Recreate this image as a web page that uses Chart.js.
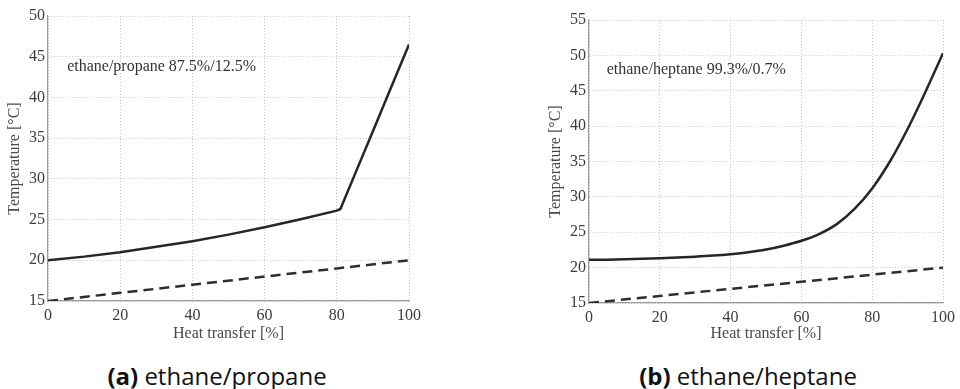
<!DOCTYPE html>
<html>
<head>
<meta charset="utf-8">
<script src="https://cdn.jsdelivr.net/npm/chart.js@4.4.0/dist/chart.umd.min.js"></script>
<style>
  html, body { margin: 0; padding: 0; background: #fff; }
  body { width: 960px; height: 389px; position: relative; overflow: hidden; }
  canvas { position: absolute; top: 0; }
  .cap { position: absolute; font-family: "Open Sans", sans-serif; font-size: 24px; line-height: 30px; color: #111; white-space: nowrap; transform: translateX(-50%); top: 361px; }
  .cap b { font-weight: 700; }
</style>
</head>
<body>
<canvas id="cA" width="440" height="343" style="left:0px;width:440px;height:343px"></canvas>
<canvas id="cB" width="440" height="343" style="left:520px;width:440px;height:343px"></canvas>
<div class="cap" style="left:217px"><b>(a)</b> ethane/propane</div>
<div class="cap" style="left:748px"><b>(b)</b> ethane/heptane</div>
<script>
// ---- data ----
const xTicks = [0, 20, 40, 60, 80, 100];

// (a) ethane/propane 87.5%/12.5%
const propaneX = [0, 10, 20, 30, 40, 50, 60, 70, 80, 81, 85, 90, 95, 100];
const propaneHot = [20.0, 20.45, 21.0, 21.65, 22.35, 23.15, 24.05, 25.05, 26.1, 26.3, 30.55, 35.85, 41.2, 46.5];
const propaneColdX = [0, 20, 40, 60, 80, 100];
const propaneCold = [15, 16, 17, 18, 19, 20];
const propaneYTicks = [15, 20, 25, 30, 35, 40, 45, 50];
const propaneLabel = "ethane/propane 87.5%/12.5%";

// (b) ethane/heptane 99.3%/0.7%
const heptaneX = [0, 5, 10, 15, 20, 25, 30, 35, 40, 45, 50, 55, 60, 65, 70, 75, 80, 85, 90, 95, 100];
const heptaneHot = [21.10, 21.13, 21.18, 21.25, 21.33, 21.43, 21.55, 21.70, 21.90, 22.17, 22.55, 23.10, 23.80, 24.75, 26.15, 28.3, 31.2, 35.0, 39.6, 44.8, 50.3];
const heptaneColdX = [0, 20, 40, 60, 80, 100];
const heptaneCold = [15, 16, 17, 18, 19, 20];
const heptaneYTicks = [15, 20, 25, 30, 35, 40, 45, 50, 55];
const heptaneLabel = "ethane/heptane 99.3%/0.7%";

const xTitle = "Heat transfer [%]";
const yTitle = "Temperature [°C]";

// ---- drawing ----
const SERIF = "'Liberation Serif', 'Times New Roman', serif";

function pts(xs, ys) { return xs.map((x, i) => ({ x: x, y: ys[i] })); }

const annotationPlugin = {
  id: 'annot',
  afterDatasetsDraw(chart, args, opts) {
    const { ctx, scales } = chart;
    ctx.save();
    ctx.font = opts.size + 'px ' + SERIF;
    ctx.fillStyle = '#333';
    ctx.textAlign = 'left';
    ctx.textBaseline = 'middle';
    ctx.fillText(opts.text, scales.x.getPixelForValue(opts.x), scales.y.getPixelForValue(opts.y));
    ctx.restore();
  }
};

function makeChart(id, hotX, hot, coldX, cold, yTicks, label, cfg) {
  const yMin = yTicks[0], yMax = yTicks[yTicks.length - 1];
  return new Chart(document.getElementById(id), {
    type: 'line',
    data: {
      datasets: [
        { data: pts(hotX, hot), borderColor: '#262626', borderWidth: 2.5, pointRadius: 0, tension: cfg.tension, cubicInterpolationMode: cfg.mode, fill: false },
        { data: pts(coldX, cold), borderColor: '#2e2e2e', borderWidth: 2.5, borderDash: [10, 6], pointRadius: 0, tension: 0, fill: false }
      ]
    },
    options: {
      responsive: false,
      animation: false,
      devicePixelRatio: 1,
      layout: { padding: { left: 0, top: cfg.top, right: cfg.right, bottom: 0 } },
      plugins: {
        legend: { display: false },
        tooltip: { enabled: false },
        annot: { text: label, x: cfg.annX, y: cfg.annY, size: 16 }
      },
      scales: {
        x: {
          type: 'linear', min: 0, max: 100,
          afterBuildTicks: (s) => { s.ticks = xTicks.map(v => ({ value: v })); },
          afterFit: (s) => { s.height = cfg.xh; },
          grid: { color: '#c4c4c4', lineWidth: 1, drawTicks: false },
          border: { display: true, color: '#9a9a9a', width: 1.2, dash: [1, 2] },
          ticks: { font: { family: SERIF, size: 16 }, color: '#3c3c3c', padding: 5, maxRotation: 0 },
          title: { display: true, text: xTitle, font: { family: SERIF, size: 16 }, color: '#4a4a4a', padding: { top: 0, bottom: 0 } }
        },
        y: {
          type: 'linear', min: yMin, max: yMax,
          afterBuildTicks: (s) => { s.ticks = yTicks.map(v => ({ value: v })); },
          afterFit: (s) => { s.width = cfg.yw; },
          grid: { color: '#c4c4c4', lineWidth: 1, drawTicks: false },
          border: { display: true, color: '#9a9a9a', width: 1.2, dash: [1, 2] },
          ticks: { font: { family: SERIF, size: 16 }, color: '#3c3c3c', padding: 3 },
          title: { display: true, text: yTitle, font: { family: SERIF, size: 16 }, color: '#4a4a4a', padding: { top: cfg.ytp, bottom: 0 } }
        }
      }
    },
    plugins: [annotationPlugin]
  });
}

makeChart('cA', propaneX, propaneHot, propaneColdX, propaneCold, propaneYTicks, propaneLabel,
  { tension: 0, mode: 'default', top: 16, right: 31, xh: 42, yw: 48, ytp: 5.4, annX: 5.3, annY: 43.8 });
makeChart('cB', heptaneX, heptaneHot, heptaneColdX, heptaneCold, heptaneYTicks, heptaneLabel,
  { tension: 0.4, mode: 'monotone', top: 20, right: 14, xh: 40, yw: 69, ytp: 26.4, annX: 5.0, annY: 47.9 });
</script>
</body>
</html>
